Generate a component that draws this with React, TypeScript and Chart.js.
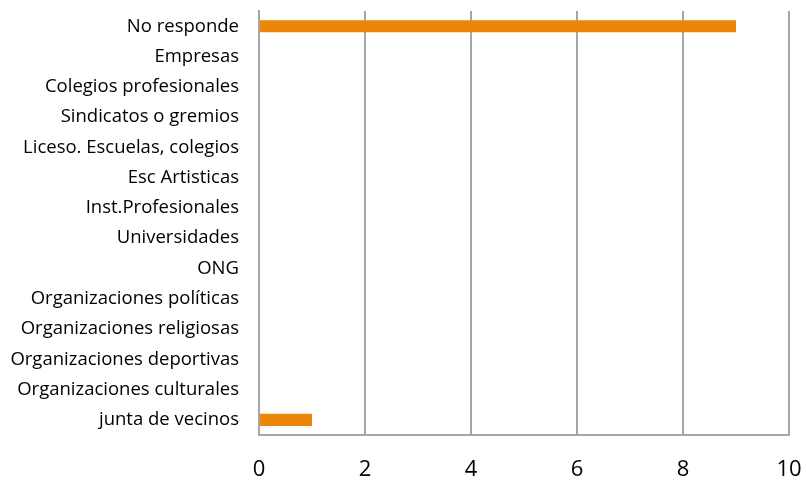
import React, { useEffect, useRef } from "react";
import { Chart, registerables } from "chart.js";

Chart.register(...registerables);

const categories = [
  "No responde",
  "Empresas",
  "Colegios profesionales",
  "Sindicatos o gremios",
  "Liceso. Escuelas, colegios",
  "Esc Artisticas",
  "Inst.Profesionales",
  "Universidades",
  "ONG",
  "Organizaciones políticas",
  "Organizaciones religiosas",
  "Organizaciones deportivas",
  "Organizaciones culturales",
  "junta de vecinos",
];
const values = [9, 0, 0, 0, 0, 0, 0, 0, 0, 0, 0, 0, 0, 1];
const xTicks = [0, 2, 4, 6, 8, 10];

export default function App() {
  const ref = useRef<HTMLCanvasElement>(null);
  useEffect(() => {
    if (!ref.current) return;
    const chart = new Chart(ref.current, {
      type: "bar",
      data: {
        labels: categories,
        datasets: [
          {
            data: values,
            backgroundColor: "#ED8509",
            borderWidth: 0,
            barPercentage: 0.4,
            categoryPercentage: 1,
          },
        ],
      },
      options: {
        indexAxis: "y",
        animation: false,
        responsive: false,
        maintainAspectRatio: false,
        layout: { padding: { left: 0, right: 17, top: 9, bottom: 0 } },
        plugins: { legend: { display: false }, tooltip: { enabled: false } },
        scales: {
          x: {
            min: 0,
            max: 10,
            afterBuildTicks: (s: any) => {
              s.ticks = xTicks.map((v) => ({ value: v }));
            },
            afterFit: (s: any) => {
              s.height = 50;
            },
            grid: {
              color: "#A6A6A6",
              lineWidth: 2,
              drawTicks: true,
              tickLength: 22,
              tickColor: "rgba(0,0,0,0)",
            },
            border: { display: true, color: "#A6A6A6", width: 2 },
            ticks: {
              padding: 0,
              color: "#000",
              font: { family: "'Open Sans', sans-serif", size: 22 },
            },
          },
          y: {
            afterFit: (s: any) => {
              s.width = 259;
            },
            grid: { display: false, drawTicks: true, tickLength: 20 },
            border: { display: true, color: "#A6A6A6", width: 2 },
            ticks: {
              padding: 0,
              color: "#000",
              autoSkip: false,
              font: { family: "'Open Sans', sans-serif", size: 18.5 },
            },
          },
        },
      },
    });
    return () => chart.destroy();
  }, []);
  return (
    <div style={{ position: "fixed", left: 0, top: 0, width: 806, height: 485, background: "#fff" }}>
      <canvas ref={ref} width={806} height={485} style={{ width: 806, height: 485 }} />
    </div>
  );
}
